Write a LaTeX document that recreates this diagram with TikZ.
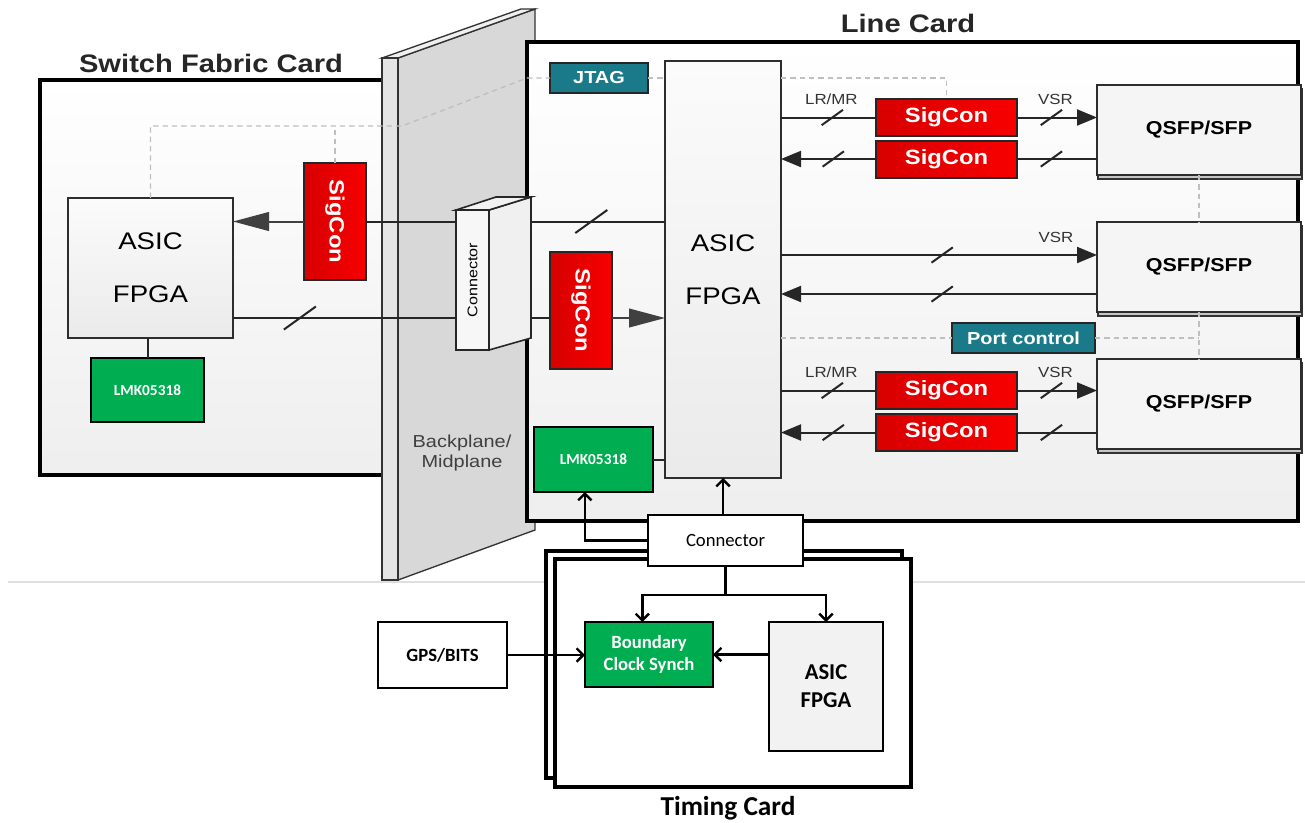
\documentclass[tikz,border=0pt]{standalone}
\usepackage{fontspec}
\setmainfont{Liberation Sans}[FakeStretch=1.15]
\newfontfamily\calfont{Carlito}
\usepackage{graphicx}
\usetikzlibrary{arrows.meta,shadows}
\definecolor{sigred}{RGB}{248,0,0}
\definecolor{sigdark}{RGB}{215,0,0}
\definecolor{tealbox}{RGB}{26,122,138}
\definecolor{lmkgreen}{RGB}{0,173,80}
\definecolor{planegray}{RGB}{216,216,216}
\definecolor{wiregray}{RGB}{64,64,64}
\tikzset{
  every node/.style={inner sep=0pt, outer sep=0pt},
  card/.style={draw=black, line width=3pt, top color=white, bottom color=gray!13},
  part/.style={draw=gray!35!black, line width=1.3pt, top color=gray!3, bottom color=gray!16},
  sigbox/.style={draw=black!85, line width=1.5pt, left color=sigdark, right color=sigred, text=white, font=\fontsize{15.5}{18}\selectfont\bfseries},
  tealtag/.style={draw=black!85, line width=1.5pt, fill=tealbox, text=white, font=\fontsize{13}{15}\selectfont\bfseries},
  lmkbox/.style={draw=black, line width=1.5pt, fill=lmkgreen, text=white, font=\calfont\fontsize{11.5}{13}\selectfont\bfseries},
  qsfp/.style={draw=gray!35!black, line width=1.1pt, fill=gray!8, font=\fontsize{14}{16}\selectfont\bfseries, copy shadow={shadow xshift=0.8pt, shadow yshift=-3pt, fill=gray!45, draw=gray!40!black, line width=1pt}},
  tbox/.style={draw=black, line width=2pt, fill=white, font=\calfont\fontsize{14}{17}\selectfont\bfseries},
  cardtitle/.style={font=\fontsize{19}{22}\selectfont\bfseries, text=black!85},
  bus/.style={line width=1.5pt, draw=black!85},
  lctip/.style={-{Triangle[length=15pt,width=12pt]}},
  gtip/.style={line width=1.5pt, draw=wiregray, -{Triangle[length=27pt,width=14pt]}},
  ctrl/.style={line width=1pt, draw=gray!50, dash pattern=on 4pt off 3pt},
  tline/.style={line width=1.8pt, -{Straight Barb[length=5pt,width=10pt]}},
  lbl/.style={yshift=13.5pt, font=\fontsize{11}{13}\selectfont, text=black!80},
  pics/slash/.style={code={\draw[-, line width=1.5pt, draw=black!85] (-#1,-0.72*#1) -- (#1,0.72*#1);}},
  pics/slash/.default=8pt
}
\begin{document}
\begin{tikzpicture}[x=0.75pt,y=-0.75pt]
\useasboundingbox (0,0) rectangle (1305,822);
\fill[white] (0,0) rectangle (1305,822);
\draw[gray!25, line width=0.8pt] (8,582) -- (1305,582);

\node[card, minimum width=262.5pt, minimum height=296.25pt] (sfc) at (215,277.5) {};
\node[cardtitle] (sfcT) at (211,63) {Switch Fabric Card};

\filldraw[draw=black!80, line width=1pt, fill=planegray] (398,58) -- (535,9) -- (535,530) -- (398,580) -- cycle;
\filldraw[draw=black!80, line width=1pt, fill=gray!12] (382,58) -- (521,9) -- (535,9) -- (398,58) -- cycle;
\filldraw[draw=black!80, line width=1pt, fill=gray!20] (382,58) rectangle (398,580);
\node[font=\fontsize{13}{14.5}\selectfont, text=black!75, align=center] (bp) at (462,453) {Backplane/\\Midplane};

\node[card, minimum width=578.25pt, minimum height=359.25pt] (lc) at (912.5,281.5) {};
\node[cardtitle] (lcT) at (908,23.5) {Line Card};

\node[part, minimum width=123.75pt, minimum height=105pt, align=center, font=\fontsize{18}{21.6}\selectfont] (asicS) at (150.5,268) {ASIC\\[18pt]FPGA};
\node[lmkbox, minimum width=84.75pt, minimum height=48pt] (lmkS) at (147.5,390) {LMK05318};
\node[sigbox, minimum width=46.5pt, minimum height=87.75pt] (sigS) at (335,221.5) {\rotatebox{-90}{SigCon}};

\node[draw=gray!30!black, line width=1.2pt, fill=gray!6, minimum width=24.75pt, minimum height=105pt, font=\fontsize{10.5}{12}\selectfont] (conn) at (472.5,280) {\rotatebox{90}{Connector}};
\filldraw[draw=gray!30!black, line width=1.2pt, fill=gray!12] (conn.north east) -- ++(42,-13) coordinate (connTR) -- ++(0,141) -- (conn.south east) -- cycle;
\filldraw[draw=gray!30!black, line width=1.2pt, fill=gray!10] (conn.north west) -- ++(40,-13) -- (connTR) -- (conn.north east) -- cycle;

\node[sigbox, minimum width=46.5pt, minimum height=87.75pt] (sigL) at (581,310.5) {\rotatebox{-90}{SigCon}};
\node[tealtag, minimum width=73.5pt, minimum height=22.5pt] (jtag) at (599,78) {JTAG};
\node[part, minimum width=87pt, minimum height=312.75pt, align=center, font=\fontsize{18}{21.6}\selectfont] (asicL) at (723,269.5) {ASIC\\[18pt]FPGA};
\node[lmkbox, minimum width=89.25pt, minimum height=48.75pt] (lmkL) at (593.5,459.5) {LMK05318};

\foreach \n/\y in {1a/117.5,1b/159,3a/390.5,3b/432.5}
    \node[sigbox, minimum width=105.75pt, minimum height=27.75pt] (sig\n) at (946.5,\y) {SigCon};
\foreach \n/\y in {1/130,2/267,3/404}
    \node[qsfp, minimum width=153pt, minimum height=67.5pt] (q\n) at (1199,\y) {QSFP/SFP};
\node[tealtag, minimum width=107.25pt, minimum height=22.5pt] (port) at (1023.5,338) {Port control};

\coordinate (jbend) at (402,126);
\draw[ctrl] (asicS.north) -- (asicS.north |- jbend) -- (jbend) -- (lc.west |- jtag) -- (jtag.west);
\draw[ctrl] (sigS.north) -- (sigS.north |- jbend);
\draw[ctrl] (jtag.east) -- (asicL.west |- jtag);
\draw[ctrl] (asicL.east |- jtag) -| (sig1a.north);
\draw[ctrl] (asicL.east |- port) -- (port.west);
\draw[ctrl] (port.east) -- (q2.south |- port);
\draw[ctrl] (q1.south) -- (q2.north);
\draw[ctrl] (q2.south) -- (q3.north);

\draw[gtip] (sigS.west) -- (asicS.east |- sigS);
\draw[bus] (sigS.east) -- (conn.west |- sigS);
\draw[bus] (connTR |- sigS) -- pic[pos=.45]{slash=12pt} (asicL.west |- sigS);
\draw[bus] (asicS.east |- 0,318) -- pic[pos=.30]{slash=12pt} (conn.west |- 0,318);
\draw[bus] (connTR |- 0,318) -- (sigL.west |- 0,318);
\draw[gtip] (sigL.east |- 0,318) -- (asicL.west |- 0,318);
\draw[bus] (lmkS.north) -- (lmkS.north |- asicS.south);
\draw[bus] (lmkL.east) -- (asicL.west |- lmkL.east);

\foreach \row in {1,3} {
    \draw[bus] (asicL.east |- sig\row a) -- pic[pos=.54]{slash} node[lbl, pos=.53]{LR/MR} (sig\row a.west);
    \draw[bus, lctip] (sig\row a.east) -- pic[pos=.43]{slash} node[lbl, pos=.48]{VSR} (q\row.west |- sig\row a);
    \draw[bus] (q\row.west |- sig\row b) -- pic[pos=.57]{slash} (sig\row b.east);
    \draw[bus, lctip] (sig\row b.west) -- pic[pos=.45]{slash} (asicL.east |- sig\row b);
}
\draw[bus, lctip] (asicL.east |- 0,255) -- pic[pos=.51]{slash} node[lbl, pos=.87]{VSR} (q2.west |- 0,255);
\draw[bus, lctip] (q2.west |- 0,294) -- pic[pos=.49]{slash} (asicL.east |- 0,294);

\node[draw=black, line width=3pt, fill=white, minimum width=267pt, minimum height=170.25pt] (tcBack) at (724,664.5) {};
\node[draw=black, line width=3pt, fill=white, minimum width=267pt, minimum height=171pt] (tcFront) at (733,673) {};
\node[font=\calfont\fontsize{20.5}{24}\selectfont\bfseries] (tcT) at (728,808) {Timing Card};
\node[tbox, line width=2.2pt, font=\calfont\fontsize{14}{17}\selectfont, minimum width=116.25pt, minimum height=38.25pt] (conT) at (725.5,540.5) {Connector};
\node[tbox, fill=lmkgreen, text=white, align=center, minimum width=96pt, minimum height=48.75pt] (bcs) at (649,654.5) {Boundary\\Clock Synch};
\node[tbox, fill=gray!10, align=center, font=\calfont\fontsize{17}{21}\selectfont\bfseries, minimum width=85.5pt, minimum height=96.75pt] (asicT) at (826,686.5) {ASIC\\FPGA};
\node[tbox, minimum width=96.75pt, minimum height=49.5pt] (gps) at (442.5,655) {GPS/BITS};

\draw[tline] (conT.west) -| ([xshift=-6.5pt]lmkL.south);
\draw[tline] (asicL.south |- conT.north) -- (asicL.south);
\draw[tline] (conT.south) -- ++(0,29) -| ([xshift=-5pt]bcs.north);
\draw[tline] (conT.south) -- ++(0,29) -| (asicT.north);
\draw[tline] (gps.east) -- (bcs.west |- gps.east);
\draw[tline] (asicT.west |- bcs.east) -- (bcs.east);
\end{tikzpicture}
\end{document}
